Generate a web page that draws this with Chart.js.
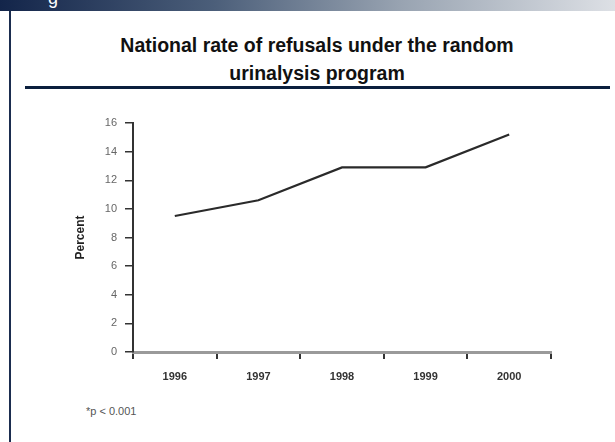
<!DOCTYPE html>
<html>
<head>
<meta charset="utf-8">
<script src="https://cdn.jsdelivr.net/npm/chart.js@4/dist/chart.umd.min.js"></script>
<style>
  body { margin: 0; width: 615px; height: 442px; overflow: hidden; background: #fff; font-family: "Liberation Sans", Arial, sans-serif; position: relative; }
  .banner { position: absolute; left: 0; top: 0; width: 615px; height: 11px; overflow: hidden;
            background: linear-gradient(to right, #13254a 0%, #4c5f7a 35%, #98a3b1 65%, #dde0e5 100%); }
  .banner span { position: absolute; left: 48px; top: -12px; color: #fff; font-size: 18px; }
  .sideline { position: absolute; left: 9px; top: 11px; bottom: 0; width: 2px; background: #1b2d4f; }
  .title { position: absolute; left: 0; width: 634px; top: 31px; text-align: center; font-weight: bold; font-size: 19.5px; line-height: 28px; color: #111; }
  .rule { position: absolute; left: 25px; top: 86px; width: 585px; height: 3px; background: #0b1f3d; }
  .note { position: absolute; left: 86px; top: 405px; font-size: 11px; color: #555; }
  canvas { position: absolute; left: 0; top: 0; }
</style>
</head>
<body>
<div class="banner"><span>g</span></div>
<div class="sideline"></div>
<div class="title">National rate of refusals under the random<br>urinalysis program</div>
<div class="rule"></div>
<div class="note">*p &lt; 0.001</div>
<canvas id="chart" width="615" height="442"></canvas>
<script>
// years on the x axis
const years = ['1996', '1997', '1998', '1999', '2000'];
// refusal rate, percent
const refusalRate = [9.5, 10.6, 12.9, 12.9, 15.2];
// y axis range
const yMin = 0;
const yMax = 16;
const yStep = 2;

const ctx = document.getElementById('chart').getContext('2d');
new Chart(ctx, {
  type: 'line',
  data: {
    labels: years,
    datasets: [{
      data: refusalRate,
      borderColor: '#2a2a2a',
      borderWidth: 2.2,
      pointRadius: 0,
      tension: 0,
      fill: false
    }]
  },
  options: {
    responsive: false,
    animation: false,
    devicePixelRatio: 1,
    layout: { padding: { left: 60, top: 123, right: 64, bottom: 50 } },
    plugins: { legend: { display: false }, tooltip: { enabled: false } },
    scales: {
      x: {
        type: 'category',
        offset: true,
        afterFit: function (scale) { scale.height = 40; },
        grid: { offset: true, drawOnChartArea: false, tickLength: 7, color: '#333', lineWidth: 2 },
        border: { color: '#9a9a9a', width: 3, dash: [1, 1] },
        ticks: { color: '#333', padding: 11, font: { family: 'Liberation Sans', size: 11, weight: 'bold' } }
      },
      y: {
        min: yMin,
        max: yMax,
        afterFit: function (scale) { scale.width = 73; },
        grid: { drawOnChartArea: false, tickLength: 8, color: '#333', lineWidth: 1.5 },
        border: { color: '#333', width: 2 },
        ticks: { stepSize: yStep, color: '#666', padding: 8, font: { family: 'Liberation Sans', size: 11 } },
        title: {
          display: true,
          text: 'Percent',
          color: '#222',
          padding: { top: 13 },
          font: { family: 'Liberation Sans', size: 12, weight: 'bold' }
        }
      }
    }
  }
});
</script>
</body>
</html>
